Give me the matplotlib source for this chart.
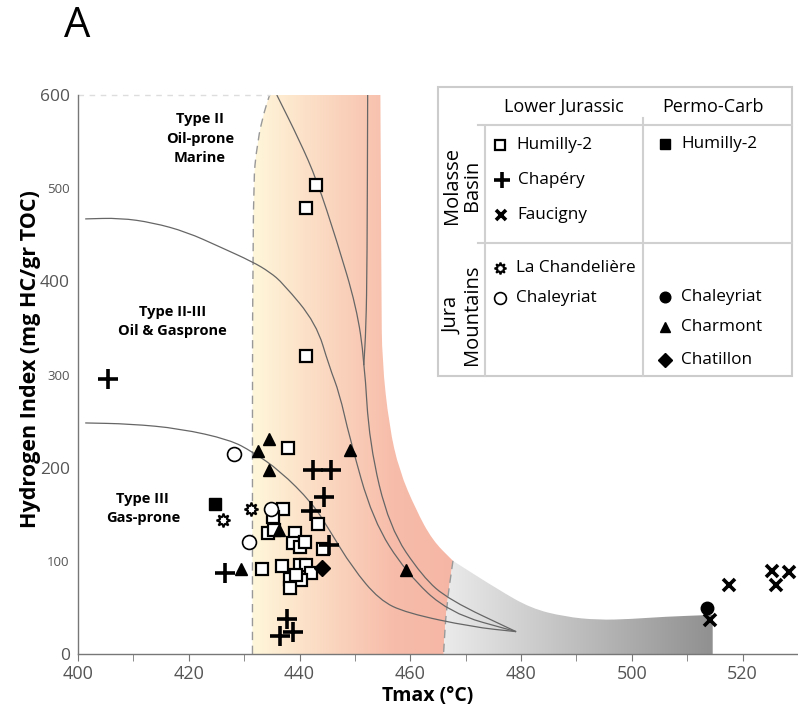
import numpy as np
import matplotlib.pyplot as plt
from matplotlib.patches import Rectangle, PathPatch
from matplotlib.path import Path
from matplotlib.colors import LinearSegmentedColormap

plt.rcParams['font.family'] = ['Open Sans', 'DejaVu Sans']

# ---- data (Tmax degC, HI mg HC/g TOC) ----
hum_lj_t = [443.0, 441.1, 441.1, 438.0, 437.0, 435.2, 434.3, 435.3, 439.1, 438.8, 440.0, 440.9,
            443.3, 444.2, 433.3, 436.8, 440.0, 441.2, 442.1, 438.2, 440.3, 439.4, 438.2]
hum_lj_hi = [503, 479, 320, 221, 156, 147, 130, 133, 130, 119, 115, 120,
             140, 113, 91, 94, 96, 96, 87, 81, 79, 85, 71]
chap_t = [405.4, 442.4, 445.7, 444.5, 442.1, 445.4, 426.5, 437.7, 438.8, 436.4]
chap_hi = [295, 197, 198, 169, 153, 117, 87, 38, 24, 19]
fauc_t = [514.1, 517.5, 525.3, 528.3, 526.1]
fauc_hi = [37, 74, 89, 88, 74]
chand_t = [431.3, 426.2]
chand_hi = [156, 144]
chal_lj_t = [428.1, 434.9, 430.9]
chal_lj_hi = [215, 156, 120]
hum_pc_t = [424.7]
hum_pc_hi = [161]
chal_pc_t = [513.6]
chal_pc_hi = [49]
charm_t = [434.5, 432.5, 434.5, 436.3, 429.5, 449.2, 459.2]
charm_hi = [231, 218, 197, 133, 91, 219, 90]
chat_t = [444.1]
chat_hi = [92]

# kerogen type boundary lines
line_a_t = [401.3, 407.6, 413.5, 419.6, 425.6, 431.5, 434.6, 437.0, 443.0, 445.4, 447.2, 449.0, 453.2, 459.3, 467.0, 479.1]
line_a_hi = [467, 468, 463, 453, 437, 421, 410, 398, 355, 308, 280, 233, 144, 87, 44, 24]
line_b_t = [401.3, 409.4, 418.4, 427.4, 431.5, 436.4, 442.3, 445.4, 449.5, 454.4, 459.3, 471.2, 479.1]
line_b_hi = [248, 247, 242, 230, 217, 197, 162, 133, 93, 58, 44, 29, 24]
line_ii_t = [435.9, 440.0, 443.1, 446.7, 450.3, 451.7, 452.6, 456.2, 462.2, 467.0, 479.1]
line_ii_hi = [600, 551, 509, 444, 372, 315, 226, 136, 83, 58, 24]
line_i_t = [452.3, 452.2, 452.0, 451.6]
line_i_hi = [600, 420, 350, 310]

# oil window outline pieces
oil_left_t = [431.5, 431.5, 432.4, 433.7, 434.6]
oil_left_hi = [0, 498, 551, 584, 600]
oil_right_t = [454.6, 454.8, 454.9, 456.2, 458.0, 461.0, 464.0, 467.7]
oil_right_hi = [600, 380, 315, 244, 197, 155, 122, 100]
split_t = [467.7, 466.5, 466.0]
split_hi = [100, 50, 0]
# gas window top edge
gas_top_t = [467.7, 475.9, 481.8, 487.9, 493.9, 499.8, 505.8, 514.6]
gas_top_hi = [100, 69, 49, 40, 36.5, 37.5, 40, 42]


def smooth(ts, his):
    p = np.column_stack([ts, his]).astype(float)
    verts = [p[0]]
    codes = [Path.MOVETO]
    if len(p) == 2:
        verts.append(p[1])
        codes.append(Path.LINETO)
        return verts, codes
    mids = (p[:-1] + p[1:]) / 2
    verts.append(mids[0])
    codes.append(Path.LINETO)
    for i in range(1, len(p) - 1):
        verts += [p[i], mids[i]]
        codes += [Path.CURVE3, Path.CURVE3]
    verts.append(p[-1])
    codes.append(Path.LINETO)
    return verts, codes


def region(pieces):
    verts, codes = [], []
    for ts, his in pieces:
        v, c = smooth(ts, his)
        if codes:
            c[0] = Path.LINETO
        verts += v
        codes += c
    verts.append(verts[0])
    codes.append(Path.CLOSEPOLY)
    return Path(verts, codes)


fig = plt.figure(figsize=(7.98, 7.14), dpi=100)
ax = fig.add_axes([78/798, 60/714, 720/798, 559/714])


def gradient_fill(path, cmap, x0, x1):
    patch = PathPatch(path, fc='none', ec='none')
    ax.add_patch(patch)
    grad = np.linspace(0, 1, 256)[None, :]
    im = ax.imshow(grad, cmap=cmap, extent=(x0, x1, 0, 600), aspect='auto',
                   origin='lower', zorder=1, interpolation='bilinear')
    im.set_clip_path(patch)


oil_path = region([(oil_left_t, oil_left_hi),
                   ([434.6, 454.6], [600, 600]),
                   (oil_right_t, oil_right_hi),
                   (split_t, split_hi)])
gas_path = region([(gas_top_t, gas_top_hi),
                   ([514.6, 514.6], [42, 0]),
                   ([514.6, 466.0], [0, 0]),
                   (split_t[::-1], split_hi[::-1])])

oil_cmap = LinearSegmentedColormap.from_list(
    'oil', [(0, '#fff7da'), (0.7, '#f7bcaa'), (1, '#f6b6a5')])
gas_cmap = LinearSegmentedColormap.from_list('gas', ['#ebebeb', '#8f8f8f'])
gradient_fill(oil_path, oil_cmap, 431.5, 468)
gradient_fill(gas_path, gas_cmap, 466, 515)

# dashed outlines
for ts, his in [(oil_left_t, oil_left_hi), (split_t, split_hi)]:
    v, c = smooth(ts, his)
    ax.add_patch(PathPatch(Path(v, c), fc='none', ec='#999999', lw=1.0,
                           ls=(0, (6, 4)), zorder=2))
ax.plot([400, 434.6], [600, 600], ls=(0, (4, 4)), color='#dddddd', lw=1.0, zorder=2, clip_on=False)

for ts, his in [(line_a_t, line_a_hi), (line_b_t, line_b_hi),
                (line_ii_t, line_ii_hi), (line_i_t, line_i_hi)]:
    v, c = smooth(ts, his)
    ax.add_patch(PathPatch(Path(v, c), fc='none', ec='#666666', lw=0.9, zorder=3))

styles = {
    'hum_lj': dict(marker='s', ms=9, mfc='white', mec='black', mew=1.6, ls='none'),
    'chap': dict(marker='+', ms=14, mec='black', mew=2.6, ls='none'),
    'fauc': dict(marker='x', ms=9, mec='black', mew=2.6, ls='none'),
    'chand': dict(marker=(8, 1, 0), ms=10, mfc='white', mec='black', mew=1.4, ls='none'),
    'chal_lj': dict(marker='o', ms=10, mfc='white', mec='black', mew=1.2, ls='none'),
    'hum_pc': dict(marker='s', ms=9, mfc='black', mec='black', ls='none'),
    'chal_pc': dict(marker='o', ms=9, mfc='black', mec='black', ls='none'),
    'charm': dict(marker='^', ms=9, mfc='black', mec='black', ls='none'),
    'chat': dict(marker='D', ms=8, mfc='black', mec='black', ls='none'),
}

ax.plot(hum_lj_t, hum_lj_hi, zorder=4, **styles['hum_lj'])
ax.plot(chal_lj_t, chal_lj_hi, zorder=4, **styles['chal_lj'])
ax.plot(chand_t, chand_hi, zorder=4, **styles['chand'])
ax.plot(hum_pc_t, hum_pc_hi, zorder=4, **styles['hum_pc'])
ax.plot(charm_t, charm_hi, zorder=5, **styles['charm'])
ax.plot(chat_t, chat_hi, zorder=5, **styles['chat'])
ax.plot(chal_pc_t, chal_pc_hi, zorder=5, **styles['chal_pc'])
ax.plot(chap_t, chap_hi, zorder=6, **styles['chap'])
ax.plot(fauc_t, fauc_hi, zorder=6, **styles['fauc'])

ax.set_xlim(400, 530)
ax.set_ylim(0, 600)
for s in ['top', 'right']:
    ax.spines[s].set_visible(False)
for s in ['left', 'bottom']:
    ax.spines[s].set_color('#777777')
    ax.spines[s].set_linewidth(1.0)

ax.set_xticks(np.arange(400, 531, 20))
ax.set_xticks(np.arange(410, 531, 20), minor=True)
ax.tick_params(axis='x', which='both', direction='out', length=5, color='#777777',
               labelsize=13, labelcolor='#555555', pad=3)
ax.set_yticks(np.arange(0, 601, 100))
ax.tick_params(axis='y', length=0, labelcolor='#555555', pad=6)
for lab, v in zip(ax.get_yticklabels(), np.arange(0, 601, 100)):
    lab.set_fontsize(12.5 if v % 200 == 0 else 9.5)

ax.set_xlabel('Tmax (°C)', fontsize=14, fontweight='bold')
ax.set_ylabel('Hydrogen Index (mg HC/gr TOC)', fontsize=15.5, fontweight='bold')
ax.xaxis.set_label_coords(0.485, -0.057)
ax.yaxis.set_label_coords(-0.052, 0.528)

ax.text(422.0, 553, 'Type II\nOil-prone\nMarine', ha='center', va='center',
        fontsize=10.5, fontweight='bold', linespacing=1.5, zorder=7)
ax.text(417.1, 357, 'Type II-III\nOil & Gasprone', ha='center', va='center',
        fontsize=10.5, fontweight='bold', linespacing=1.5, zorder=7)
ax.text(411.7, 156, 'Type III\nGas-prone', ha='center', va='center',
        fontsize=10.5, fontweight='bold', linespacing=1.5, zorder=7)

fig.text(77/798, 1 - 26/714, 'A', fontsize=30, ha='center', va='center')

# ---- table legend, laid out in figure pixels ----
lx = fig.add_axes([0, 0, 1, 1])
lx.set_xlim(0, 798)
lx.set_ylim(714, 0)
lx.axis('off')
lx.add_patch(Rectangle((438, 87), 354, 289, fc='white', ec='#cccccc', lw=1.5))
gc = '#d0d0d0'
lx.plot([478, 792], [125, 125], color=gc, lw=1.5)
lx.plot([478, 792], [243, 243], color=gc, lw=1.5)
lx.plot([485, 485], [127, 376], color=gc, lw=1.5)
lx.plot([643, 643], [118, 376], color=gc, lw=1.5)

lx.text(564, 107, 'Lower Jurassic', ha='center', va='center', fontsize=13)
lx.text(713, 107, 'Permo-Carb', ha='center', va='center', fontsize=13)
lx.text(462, 185, 'Molasse\nBasin', ha='center', va='center', fontsize=14.5,
        rotation=90, linespacing=0.95)
lx.text(462, 315, 'Jura\nMountains', ha='center', va='center', fontsize=14.5,
        rotation=90, linespacing=0.95)

entries = [
    ('hum_lj', 'Humilly-2', 500, 145),
    ('chap', 'Chapéry', 502, 180),
    ('fauc', 'Faucigny', 501, 215),
    ('chand', 'La Chandelière', 500, 268),
    ('chal_lj', 'Chaleyriat', 500, 298),
    ('hum_pc', 'Humilly-2', 665, 144),
    ('chal_pc', 'Chaleyriat', 665, 297),
    ('charm', 'Charmont', 665, 327),
    ('chat', 'Chatillon', 665, 360),
]
for key, name, mx, my in entries:
    st = dict(styles[key])
    st['ms'] = st['ms'] * 0.85
    lx.plot([mx], [my], **st)
    lx.text(mx + 16, my, name, ha='left', va='center', fontsize=12.3)

fig.savefig('out.png', dpi=100)
